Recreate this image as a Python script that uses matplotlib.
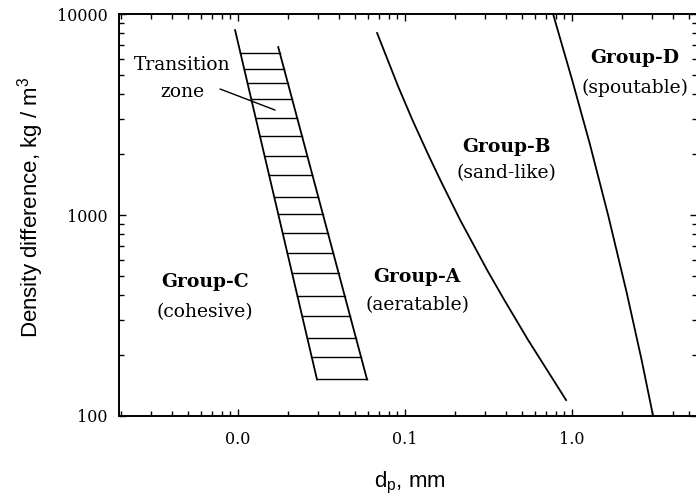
import numpy as np
import matplotlib
matplotlib.use("Agg")
import matplotlib.pyplot as plt
from matplotlib.ticker import LogLocator, NullFormatter

# ---- data ----
# Group A / Group B boundary
ab_dp = [0.0680, 0.0912, 0.1107, 0.1362, 0.1625, 0.2138, 0.3101, 0.3927,
         0.5451, 0.9207]
ab_rho = [8045, 4333, 2969, 2035, 1494, 944, 532, 378, 239, 120]
# Group B / Group D boundary
bd_dp = [0.7695, 1.001, 1.273, 1.643, 2.126, 2.608, 3.055]
bd_rho = [10000, 4695, 2281, 1000, 409, 190, 100]
# Transition zone (C / A) boundaries
tz_left_dp = [0.0096, 0.0297]
tz_left_rho = [8320, 152]
tz_right_dp = [0.0174, 0.0592]
tz_right_rho = [6850, 152]
# hatch levels of the transition zone
tz_hatch_rho = [6420, 5307, 4551, 3763, 3050, 2472, 1966, 1581, 1233,
                1012, 816, 649, 516, 395, 314, 245, 197, 152]

x_ticks = [0.01, 0.1, 1.0]
x_ticklabels = ["0.0", "0.1", "1.0"]
y_ticks = [100, 1000, 10000]
y_ticklabels = ["100", "1000", "10000"]

group_names = ["Group-C", "Group-A", "Group-B", "Group-D"]
group_desc = ["(cohesive)", "(aeratable)", "(sand-like)", "(spoutable)"]

# ---- figure ----
fig = plt.figure(figsize=(6.96, 4.95), dpi=100)
ax = fig.add_axes([0.171, 0.1596, 0.8305, 0.8121])
ax.set_xscale("log")
ax.set_yscale("log")
ax.set_xlim(0.001938, 5.60)
ax.set_ylim(100, 10000)

lw = 1.3
ax.plot(ab_dp, ab_rho, color="black", lw=lw)
ax.plot(bd_dp, bd_rho, color="black", lw=lw)
ax.plot(tz_left_dp, tz_left_rho, color="black", lw=lw)
ax.plot(tz_right_dp, tz_right_rho, color="black", lw=lw)


def x_on(line_dp, line_rho, rho):
    lr = np.log10(line_rho)[::-1]
    ld = np.log10(line_dp)[::-1]
    return 10 ** np.interp(np.log10(rho), lr, ld)


for r in tz_hatch_rho:
    xl = x_on(tz_left_dp, tz_left_rho, r)
    xr = x_on(tz_right_dp, tz_right_rho, r)
    ax.plot([xl, xr], [r, r], color="black", lw=1.0)

serif = "DejaVu Serif"
ax.text(0.109, 0.873, "Transition", transform=ax.transAxes, ha="center",
        va="center", fontsize=13.5, family=serif)
ax.text(0.109, 0.806, "zone", transform=ax.transAxes, ha="center",
        va="center", fontsize=13.5, family=serif)
ax.annotate("", xy=(0.01667, 3327), xytext=(0.0078, 4236),
            arrowprops=dict(arrowstyle="-", color="black", lw=1.0,
                            shrinkA=0, shrinkB=0))

pos = [(0.149, 0.333, 0.259), (0.516, 0.346, 0.276),
       (0.671, 0.669, 0.604), (0.893, 0.891, 0.816)]
for name, desc, (fx, fy1, fy2) in zip(group_names, group_desc, pos):
    ax.text(fx, fy1, name, transform=ax.transAxes, ha="center", va="center",
            fontsize=13.5, family=serif, fontweight="bold")
    ax.text(fx, fy2, desc, transform=ax.transAxes, ha="center", va="center",
            fontsize=13.5, family=serif)

ax.set_xticks(x_ticks)
ax.set_xticklabels(x_ticklabels)
ax.set_yticks(y_ticks)
ax.set_yticklabels(y_ticklabels)
ax.xaxis.set_minor_locator(LogLocator(base=10, subs=np.arange(2, 10)))
ax.yaxis.set_minor_locator(LogLocator(base=10, subs=np.arange(2, 10)))
ax.xaxis.set_minor_formatter(NullFormatter())
ax.yaxis.set_minor_formatter(NullFormatter())
ax.tick_params(which="both", direction="in", top=True, right=True,
               width=1.0, color="black")
ax.tick_params(which="major", length=5)
ax.tick_params(which="minor", length=3.5)
ax.tick_params(axis="y", which="major", pad=8)
ax.tick_params(axis="x", which="major", pad=11)
for lab in ax.get_xticklabels() + ax.get_yticklabels():
    lab.set_family(serif)
    lab.set_fontsize(11.5)
for s in ax.spines.values():
    s.set_linewidth(1.4)

sans = "Liberation Sans"
ax.set_xlabel(r"d$_{\mathregular{p}}$, mm", family=sans, fontsize=16)
ax.set_ylabel(r"Density difference, kg / m$^{\mathregular{3}}$", family=sans,
              fontsize=16)
ax.xaxis.set_label_coords(0.503, -0.135)
ax.yaxis.set_label_coords(-0.127, 0.52)

fig.savefig("out.png", dpi=100)
